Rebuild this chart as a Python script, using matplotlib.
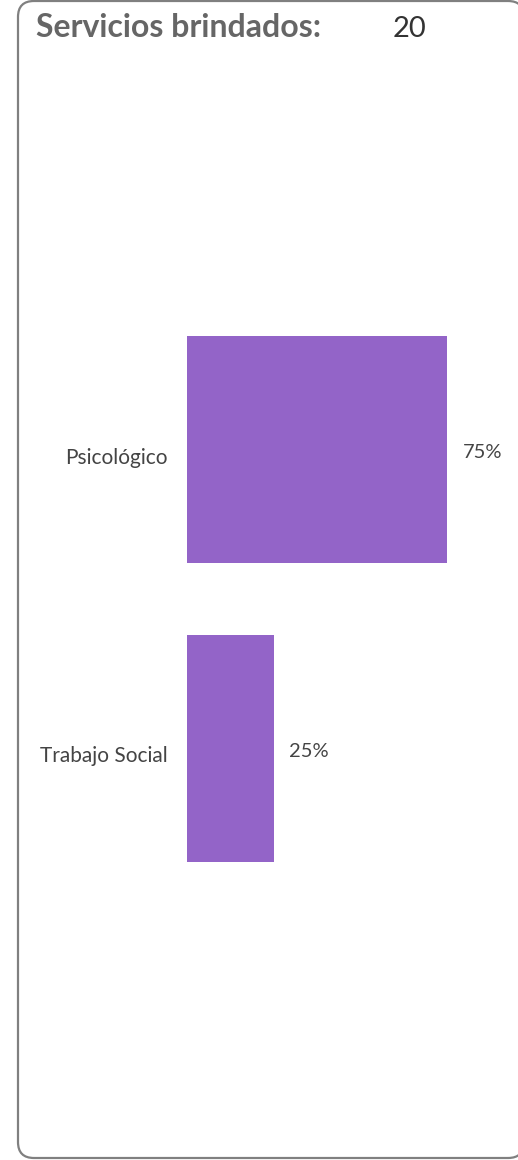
import matplotlib
matplotlib.use('Agg')
import matplotlib.pyplot as plt
import matplotlib.patches as mpatches
import matplotlib.transforms as mtransforms
from matplotlib.path import Path

categories = ['Psicológico', 'Trabajo Social']
percents = [75, 25]
total_label = 'Servicios brindados:'
total_value = 20

bar_color = '#9364C8'
text_color = '#444444'

plt.rcParams['font.family'] = ['Lato', 'DejaVu Sans']

W, H = 518, 1160
fig = plt.figure(figsize=(W / 100, H / 100), dpi=100)
fig.patch.set_facecolor('white')

# background axes in pixel units for the rounded card border
bg = fig.add_axes([0, 0, 1, 1], zorder=-1)
bg.set_xlim(0, W)
bg.set_ylim(0, H)
bg.axis('off')
L, R, B, T, r = 18, 524, 2, 1159, 16
verts = [(R, B + r), (R, B), (R - r, B), (L + r, B), (L, B), (L, B + r),
         (L, T - r), (L, T), (L + r, T), (R - r, T), (R, T), (R, T - r)]
codes = [Path.MOVETO, Path.CURVE3, Path.CURVE3, Path.LINETO, Path.CURVE3,
         Path.CURVE3, Path.LINETO, Path.CURVE3, Path.CURVE3, Path.LINETO,
         Path.CURVE3, Path.CURVE3]
bg.add_patch(mpatches.PathPatch(Path(verts, codes), facecolor='none',
                                edgecolor='#808080', linewidth=1.6))

# axes placed so the zero line sits at x=187px and rows are 299px apart
left = 187 / W
width = (515.7 - 187) / W
top_px, bot_px = 150.5, 1047.5
ax = fig.add_axes([left, 1 - bot_px / H, width, (bot_px - top_px) / H])
ax.patch.set_alpha(0)

ypos = list(range(len(categories)))
ax.barh(ypos, percents, height=0.76, color=bar_color)
ax.set_xlim(0, 95)
ax.set_ylim(2, -1)

for y, v in zip(ypos, percents):
    ax.annotate(f'{v}%', xy=(v, y), xytext=(16, -3), textcoords='offset pixels',
                ha='left', va='center', fontsize=14.5, color=text_color)

ax.set_yticks(ypos)
ax.set_yticklabels(categories, fontsize=15, color=text_color)
ax.tick_params(axis='y', length=0, pad=13.7)
offset = mtransforms.ScaledTranslation(0, -6 / 100, fig.dpi_scale_trans)
for lbl in ax.get_yticklabels():
    lbl.set_transform(lbl.get_transform() + offset)
ax.set_xticks([])
for s in ax.spines.values():
    s.set_visible(False)

fig.text(36 / W, 1 - 37 / H, total_label, fontsize=23, fontweight='bold',
         color='#666666', ha='left', va='baseline')
fig.text(393 / W, 1 - 37 / H, str(total_value), fontsize=21,
         color='#333333', ha='left', va='baseline')

fig.savefig('out.png', dpi=100)
